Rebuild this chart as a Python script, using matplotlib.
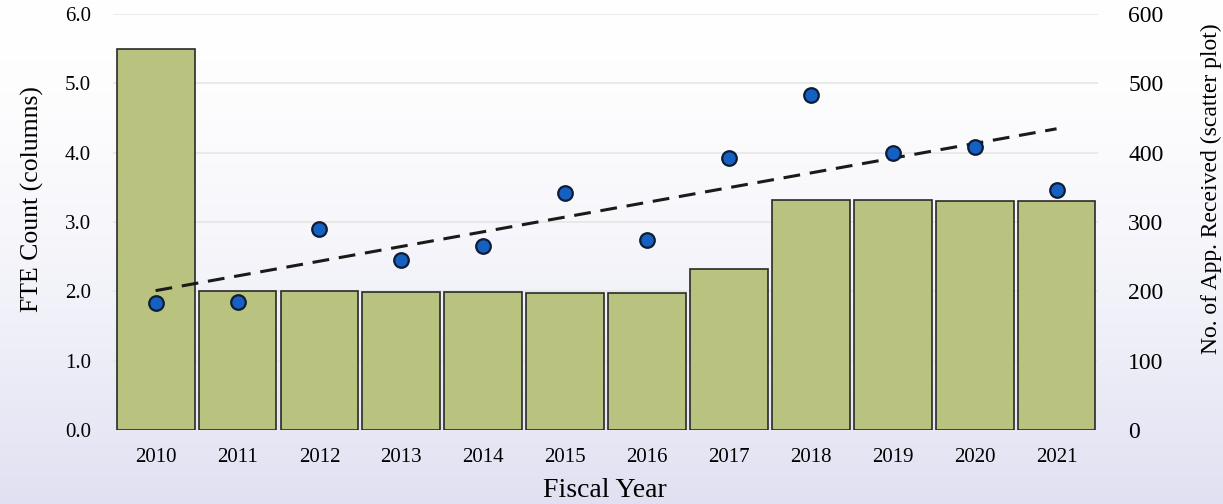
import matplotlib.pyplot as plt
import numpy as np

years = ['2010', '2011', '2012', '2013', '2014', '2015', '2016', '2017', '2018', '2019', '2020', '2021']
fte = [5.5, 2.0, 2.0, 1.99, 1.99, 1.98, 1.98, 2.32, 3.32, 3.32, 3.31, 3.31]
apps = [183, 185, 290, 245, 265, 342, 274, 392, 483, 400, 408, 346]

plt.rcParams['font.family'] = ['Liberation Serif', 'DejaVu Serif']

fig = plt.figure(figsize=(12.23, 5.04), dpi=100)

# soft lavender tint toward the bottom, like the scanned page
grad = np.linspace(0, 1, 256).reshape(-1, 1) ** 1.6
bg = np.ones((256, 1, 3))
bg[:, 0, 0] = 1 - 0.12 * grad[:, 0]
bg[:, 0, 1] = 1 - 0.12 * grad[:, 0]
bg[:, 0, 2] = 1 - 0.05 * grad[:, 0]
bgax = fig.add_axes([0, 0, 1, 1], zorder=-10)
bgax.imshow(bg, aspect='auto', extent=[0, 1, 0, 1])
bgax.axis('off')

ax = fig.add_axes([0.0924, 0.147, 0.805, 0.825])
ax.patch.set_alpha(0)
x = np.arange(len(years))

ax.bar(x, fte, width=0.95, color='#b9c27f', edgecolor='#2a2a2a', linewidth=1.2, zorder=2)
ax.set_ylim(0, 6)
ax.set_xlim(-0.52, 11.5)
ax.set_yticks(np.arange(0, 6.1, 1.0))
ax.set_yticklabels([f'{v:.1f}' for v in np.arange(0, 6.1, 1.0)])
ax.set_xticks(x)
ax.set_xticklabels(years)
ax.grid(axis='y', color='#e6e6e6', linewidth=1.2, zorder=0)
ax.set_axisbelow(True)
ax.tick_params(axis='x', length=0, labelsize=15, pad=13)
ax.tick_params(axis='y', length=0, labelsize=15, pad=16)
for s in ax.spines.values():
    s.set_visible(False)
ax.set_ylabel('FTE Count (columns)', fontsize=18.5)
ax.yaxis.set_label_coords(-0.07, 0.555)
ax.set_xlabel('Fiscal Year', fontsize=20, labelpad=8)

ax2 = ax.twinx()
ax2.set_ylim(0, 600)
ax2.set_yticks(np.arange(0, 601, 100))
ax2.scatter(x, apps, s=110, color='#1560c0', edgecolor='#0d1d33', linewidth=1.6, zorder=5)
m, b = np.polyfit(x, apps, 1)
ax2.plot([x[0], x[-1]], [m * x[0] + b, m * x[-1] + b], color='#1a1a1a', linestyle=(0, (5.5, 3.2)), linewidth=2.2, zorder=4)
ax2.tick_params(length=0, labelsize=17, pad=22)
for s in ax2.spines.values():
    s.set_visible(False)
ax2.set_ylabel('No. of App. Received (scatter plot)', fontsize=17)
ax2.yaxis.set_label_coords(1.105, 0.58)

fig.savefig('out.png', dpi=100)
